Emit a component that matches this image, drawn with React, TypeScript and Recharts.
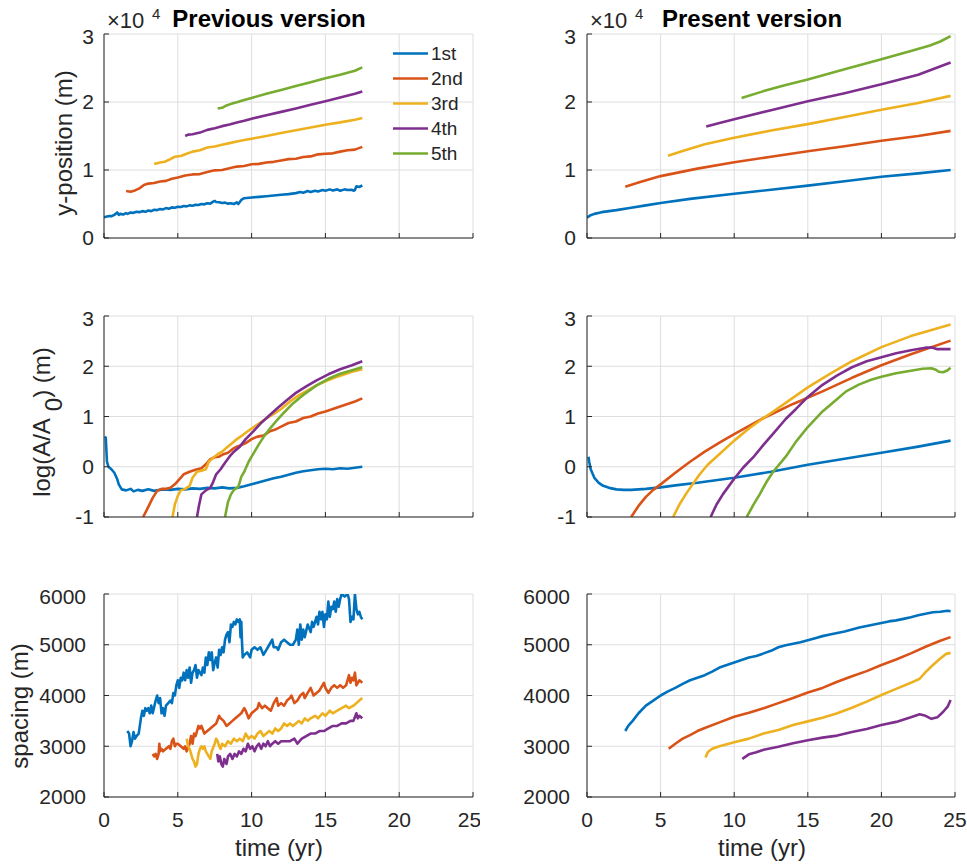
import React from 'react';
import { LineChart, Line, XAxis, YAxis, CartesianGrid, Legend } from 'recharts';

type Pt = [number, number];

const SERIES_NAMES = ['1st', '2nd', '3rd', '4th', '5th'];
const SERIES_COLORS = ['#0072BD', '#D95319', '#EDB120', '#7E2F8E', '#77AC30'];
const X_TICKS = [0, 5, 10, 15, 20, 25];
const POS_TICKS = [0, 10000, 20000, 30000];
const LOG_TICKS = [-1, 0, 1, 2, 3];
const SPACING_TICKS = [2000, 3000, 4000, 5000, 6000];
const TITLES = ['Previous version', 'Present version'];
const X_LABEL = 'time (yr)';
const Y_LABELS = ['y-position (m)', 'log(A/A', '0', ') (m)', 'spacing (m)'];

// ---------- Previous version: y-position ----------
const prevPos1: Pt[] = [[0,3050],[0.2,3150],[0.4,3250],[0.5,3200],[0.7,3400],[0.9,3750],[1.0,3400],[1.1,3550],[1.3,3450],[1.5,3650],[1.6,3550],[1.8,3750],[2.0,3700],[2.2,3850],[2.4,3800],[2.6,3950],[2.8,3850],[3.0,4050],[3.2,3950],[3.4,4150],[3.6,4100],[3.8,4250],[4.0,4200],[4.2,4400],[4.4,4300],[4.6,4500],[4.8,4450],[5.0,4600],[5.2,4550],[5.4,4700],[5.6,4650],[5.8,4800],[6.0,4750],[6.2,4900],[6.4,4850],[6.6,5000],[6.8,4950],[7.0,5100],[7.2,5050],[7.4,5350],[7.5,5450],[7.6,5300],[7.8,5250],[8.0,5150],[8.2,5200],[8.4,5050],[8.6,5100],[8.8,5000],[9.0,5250],[9.1,5000],[9.2,5300],[9.3,5600],[9.5,5850],[10,5950],[10.5,6050],[11,6150],[11.5,6250],[12,6350],[12.5,6450],[13,6600],[13.3,6750],[13.5,6650],[13.8,6900],[14,6750],[14.3,6950],[14.5,6850],[14.8,7050],[15,6950],[15.3,7150],[15.5,7000],[15.8,7150],[16,6950],[16.3,7150],[16.5,7050],[16.8,7100],[16.9,6950],[17.0,7050],[17.1,7600],[17.3,7500],[17.5,7750]];
const prevPos2: Pt[] = [[1.5,6900],[1.8,6800],[2.1,7000],[2.4,7300],[2.7,7800],[3.0,8000],[3.4,8100],[3.8,8300],[4.2,8400],[4.6,8700],[5.0,8900],[5.5,9200],[6.0,9350],[6.5,9400],[7.0,9700],[7.5,9950],[8.0,10000],[8.5,10250],[9.0,10500],[9.5,10600],[10,10850],[10.5,10900],[11,11100],[11.5,11200],[12,11400],[12.5,11600],[13,11650],[13.5,11900],[14,12000],[14.5,12300],[15,12400],[15.5,12450],[16,12700],[16.5,12900],[17,13000],[17.5,13400]];
const prevPos3: Pt[] = [[3.4,10900],[3.6,11000],[3.8,11100],[4.1,11200],[4.4,11500],[4.8,11950],[5.2,12050],[5.6,12400],[6.0,12700],[6.5,12900],[7.0,13300],[7.5,13450],[8.0,13700],[8.5,13950],[9.0,14200],[9.5,14400],[10,14600],[11,15000],[12,15450],[13,15850],[14,16250],[15,16650],[16,17000],[17,17400],[17.5,17650]];
const prevPos4: Pt[] = [[5.5,15000],[5.7,15200],[6.0,15250],[6.5,15500],[7.0,15900],[7.5,16150],[8.0,16450],[8.5,16700],[9.0,17000],[9.5,17250],[10,17550],[11,18050],[12,18550],[13,19050],[14,19600],[15,20100],[16,20650],[17,21200],[17.5,21550]];
const prevPos5: Pt[] = [[7.7,19050],[8.0,19150],[8.3,19500],[8.7,19800],[9.0,19950],[9.5,20300],[10,20600],[11,21200],[12,21750],[13,22350],[14,22900],[15,23500],[16,24000],[17,24600],[17.5,25100]];

// ---------- Present version: y-position ----------
const presPos1: Pt[] = [[0,3000],[0.2,3300],[0.5,3550],[1,3800],[2,4100],[3,4450],[4,4800],[5,5150],[7,5750],[10,6500],[12.5,7100],[15,7700],[17.5,8350],[20,9000],[22.5,9500],[24.7,10000]];
const presPos2: Pt[] = [[2.6,7550],[3.5,8150],[5,9100],[7.5,10200],[10,11150],[12.5,11950],[15,12750],[17.5,13500],[20,14300],[22.5,15000],[24.7,15750]];
const presPos3: Pt[] = [[5.5,12100],[6.5,12800],[8,13800],[10,14750],[12.5,15800],[15,16750],[17.5,17800],[20,18850],[22.5,19850],[24.7,20900]];
const presPos4: Pt[] = [[8.1,16400],[9,16900],[10,17450],[12.5,18800],[15,20100],[17.5,21300],[20,22600],[22.5,24000],[24.7,25800]];
const presPos5: Pt[] = [[10.5,20600],[12,21600],[13.5,22500],[15,23300],[17.5,24800],[20,26300],[22,27500],[23.3,28300],[24,28900],[24.7,29700]];

// ---------- Previous version: log(A/A0) ----------
const prevLog1: Pt[] = [[0.05,0.6],[0.12,0.58],[0.2,0.1],[0.3,0.0],[0.5,-0.05],[0.7,-0.12],[0.9,-0.25],[1.0,-0.35],[1.2,-0.45],[1.5,-0.47],[1.8,-0.44],[2.0,-0.49],[2.3,-0.46],[2.6,-0.48],[3.0,-0.45],[3.4,-0.48],[4,-0.45],[4.5,-0.46],[5,-0.44],[5.5,-0.45],[6,-0.43],[6.5,-0.44],[7,-0.42],[7.5,-0.43],[8,-0.41],[8.5,-0.43],[9,-0.42],[9.5,-0.39],[10,-0.35],[10.5,-0.31],[11,-0.27],[11.5,-0.23],[12,-0.2],[12.5,-0.16],[13,-0.12],[13.5,-0.09],[14,-0.07],[14.5,-0.05],[15,-0.04],[15.5,-0.05],[16,-0.03],[16.5,-0.04],[17,-0.02],[17.5,0.0]];
const prevLog2: Pt[] = [[2.65,-1.0],[3.0,-0.8],[3.3,-0.62],[3.6,-0.48],[3.9,-0.44],[4.2,-0.44],[4.5,-0.42],[4.8,-0.35],[5.1,-0.25],[5.4,-0.15],[5.8,-0.1],[6.2,-0.06],[6.6,-0.03],[6.9,0.05],[7.2,0.15],[7.5,0.19],[7.8,0.2],[8.1,0.25],[8.4,0.28],[8.7,0.35],[9.0,0.4],[9.3,0.43],[9.6,0.47],[10,0.55],[10.4,0.6],[10.8,0.62],[11.2,0.7],[11.6,0.74],[12,0.8],[12.5,0.87],[13,0.9],[13.5,0.97],[14,1.0],[14.5,1.06],[15,1.1],[15.5,1.15],[16,1.2],[16.5,1.25],[17,1.3],[17.5,1.36]];
const prevLog3: Pt[] = [[4.64,-1.0],[4.8,-0.75],[5.0,-0.58],[5.2,-0.47],[5.5,-0.44],[5.8,-0.38],[6.0,-0.22],[6.3,-0.1],[6.6,-0.08],[6.9,-0.05],[7.1,0.1],[7.4,0.18],[7.7,0.25],[8.0,0.3],[8.3,0.38],[8.6,0.45],[9.0,0.55],[9.4,0.63],[9.8,0.72],[10.2,0.8],[10.6,0.88],[11,0.96],[11.5,1.05],[12,1.15],[12.6,1.3],[13.2,1.42],[13.8,1.52],[14.4,1.62],[15,1.7],[15.6,1.77],[16.2,1.83],[16.8,1.89],[17.5,1.94]];
const prevLog4: Pt[] = [[6.3,-1.0],[6.45,-0.75],[6.6,-0.55],[6.9,-0.47],[7.2,-0.42],[7.4,-0.3],[7.6,-0.15],[7.9,-0.05],[8.2,0.08],[8.5,0.2],[8.8,0.3],[9.2,0.4],[9.6,0.55],[10.1,0.7],[10.6,0.86],[11.2,1.02],[11.8,1.18],[12.4,1.33],[13,1.47],[13.7,1.6],[14.4,1.72],[15.2,1.84],[16,1.94],[16.8,2.02],[17.5,2.1]];
const prevLog5: Pt[] = [[8.2,-1.0],[8.4,-0.7],[8.6,-0.55],[8.8,-0.46],[9.1,-0.4],[9.3,-0.2],[9.5,-0.1],[9.8,0.1],[10.1,0.25],[10.5,0.45],[10.9,0.63],[11.3,0.78],[11.7,0.92],[12.2,1.08],[12.8,1.26],[13.5,1.43],[14.4,1.62],[15.2,1.75],[16,1.85],[16.8,1.92],[17.5,1.98]];

// ---------- Present version: log(A/A0) ----------
const presLog1: Pt[] = [[0.1,0.2],[0.15,0.1],[0.25,-0.05],[0.5,-0.22],[0.8,-0.32],[1.1,-0.38],[1.5,-0.42],[2,-0.45],[2.5,-0.46],[3,-0.46],[4,-0.44],[5,-0.41],[6,-0.37],[7.5,-0.32],[10,-0.22],[12.5,-0.1],[15,0.04],[17.5,0.16],[20,0.28],[22.5,0.4],[24.7,0.52]];
const presLog2: Pt[] = [[3.0,-1.0],[3.5,-0.78],[4,-0.6],[4.5,-0.46],[5,-0.35],[6,-0.12],[7,0.1],[8,0.3],[9,0.48],[10,0.65],[12,0.97],[14,1.25],[16,1.5],[18,1.77],[20,2.02],[22,2.24],[24.7,2.51]];
const presLog3: Pt[] = [[5.85,-1.0],[6.3,-0.74],[6.75,-0.53],[7.2,-0.34],[7.66,-0.15],[8.2,0.04],[8.8,0.2],[10,0.52],[11,0.76],[12,0.97],[12.5,1.07],[13.5,1.27],[15,1.58],[16.5,1.85],[18,2.1],[20,2.38],[22,2.6],[24.7,2.83]];
const presLog4: Pt[] = [[8.4,-1.0],[8.8,-0.75],[9.25,-0.54],[10,-0.24],[10.6,-0.02],[11.3,0.19],[12,0.44],[12.65,0.66],[13.5,0.95],[14.2,1.15],[15,1.39],[16,1.63],[17,1.82],[18,1.98],[19,2.1],[20,2.18],[21,2.26],[22,2.32],[23,2.37],[23.5,2.37],[23.8,2.34],[24.2,2.34],[24.7,2.34]];
const presLog5: Pt[] = [[10.85,-1.0],[11.3,-0.76],[11.75,-0.54],[12.2,-0.3],[12.65,-0.1],[13.5,0.2],[14.2,0.5],[15,0.79],[16,1.1],[17,1.35],[17.6,1.5],[18.5,1.64],[19.3,1.73],[20,1.79],[21,1.86],[22,1.91],[22.8,1.95],[23.4,1.96],[23.7,1.93],[23.9,1.89],[24.2,1.88],[24.5,1.92],[24.7,1.97]];

// ---------- Previous version: spacing ----------
const prevSp1: Pt[] = [[1.58,3300],[1.7,3250],[1.8,3000],[1.9,3100],[2.0,3280],[2.1,3150],[2.2,3200],[2.35,3250],[2.5,3550],[2.6,3700],[2.7,3600],[2.8,3750],[2.9,3700],[3.0,3750],[3.1,3650],[3.2,3800],[3.3,3650],[3.5,3900],[3.6,4000],[3.7,3850],[3.8,3950],[3.9,3650],[4.0,3750],[4.1,3600],[4.2,3800],[4.35,3850],[4.5,3900],[4.6,3850],[4.7,4050],[4.8,4000],[4.9,4200],[5.0,4300],[5.1,4150],[5.2,4350],[5.3,4300],[5.4,4450],[5.5,4300],[5.6,4500],[5.7,4350],[5.8,4550],[5.9,4250],[6.0,4450],[6.1,4500],[6.2,4600],[6.3,4350],[6.4,4500],[6.5,4450],[6.6,4400],[6.7,4550],[6.8,4450],[6.9,4750],[7.0,4600],[7.1,4850],[7.2,4700],[7.3,4850],[7.4,4500],[7.5,4650],[7.6,4750],[7.7,4550],[7.8,4900],[7.9,4800],[8.0,4950],[8.1,4850],[8.2,5100],[8.3,5200],[8.4,5250],[8.5,5050],[8.6,5400],[8.7,5350],[8.8,5450],[8.9,5400],[9.0,5500],[9.1,5450],[9.2,5500],[9.25,5150],[9.3,5450],[9.35,5050],[9.4,4750],[9.5,4800],[9.7,4850],[9.9,4750],[10.0,4900],[10.2,4950],[10.4,4900],[10.6,4950],[10.8,4800],[11.0,4900],[11.2,5000],[11.4,5100],[11.5,4950],[11.7,4950],[11.8,4900],[12.0,5050],[12.2,5100],[12.4,5050],[12.6,5000],[12.8,5000],[13.0,5100],[13.1,5300],[13.2,5000],[13.3,5400],[13.4,5100],[13.5,5300],[13.6,5150],[13.8,5400],[14.0,5250],[14.1,5450],[14.2,5350],[14.4,5550],[14.5,5400],[14.6,5650],[14.7,5500],[14.8,5650],[14.9,5350],[15.0,5600],[15.1,5500],[15.2,5850],[15.3,5550],[15.4,5750],[15.5,5700],[15.6,5850],[15.7,5650],[15.8,5900],[15.9,5750],[16.0,5900],[16.1,6000],[16.3,5950],[16.5,6000],[16.6,5900],[16.7,5450],[16.8,5550],[16.9,5500],[17.0,6000],[17.1,5700],[17.2,5600],[17.3,5650],[17.4,5550],[17.5,5500]];
const prevSp2: Pt[] = [[3.3,2850],[3.4,2800],[3.5,2850],[3.6,2750],[3.7,2850],[3.75,3050],[3.8,2900],[3.9,2950],[4.0,2900],[4.2,2950],[4.4,3000],[4.5,2950],[4.6,3100],[4.7,3150],[4.8,3000],[4.9,3050],[5.0,3050],[5.2,3000],[5.4,2950],[5.5,3000],[5.6,2900],[5.8,3050],[5.9,3200],[6.0,3050],[6.1,3250],[6.2,3200],[6.3,3300],[6.4,3400],[6.5,3350],[6.6,3400],[6.8,3250],[7.0,3300],[7.2,3350],[7.4,3400],[7.6,3450],[7.8,3600],[7.9,3550],[8.1,3500],[8.3,3400],[8.5,3450],[8.7,3500],[8.9,3550],[9.1,3600],[9.3,3650],[9.5,3750],[9.6,3700],[9.8,3550],[10.0,3650],[10.2,3700],[10.4,3750],[10.5,3850],[10.7,3750],[10.9,3800],[11.1,3750],[11.3,3700],[11.5,3850],[11.7,3950],[11.8,3800],[12.0,3850],[12.2,3800],[12.4,3900],[12.6,3950],[12.7,4000],[12.9,3850],[13.1,3900],[13.3,4000],[13.5,4050],[13.6,3950],[13.8,4050],[14.0,4150],[14.2,4000],[14.4,4050],[14.6,4100],[14.8,4200],[14.9,4250],[15.0,4150],[15.2,4050],[15.4,4150],[15.6,4200],[15.8,4150],[16.0,4200],[16.2,4150],[16.4,4200],[16.6,4400],[16.7,4250],[16.8,4350],[16.9,4300],[17.0,4450],[17.1,4200],[17.2,4250],[17.3,4300],[17.5,4250]];
const prevSp3: Pt[] = [[5.6,3150],[5.7,3000],[5.8,2950],[5.9,2850],[6.0,2750],[6.1,2700],[6.2,2600],[6.3,2650],[6.4,2850],[6.5,2950],[6.6,3000],[6.7,2950],[6.8,3000],[6.9,2900],[7.0,2850],[7.1,2800],[7.2,2750],[7.3,2900],[7.5,3050],[7.6,3150],[7.7,3100],[7.8,3000],[7.9,2950],[8.0,3050],[8.2,3000],[8.4,3100],[8.6,3050],[8.8,3150],[9.0,3100],[9.2,3150],[9.4,3100],[9.6,3250],[9.8,3150],[10.0,3200],[10.2,3150],[10.4,3250],[10.6,3300],[10.8,3200],[11.0,3250],[11.2,3300],[11.4,3250],[11.6,3350],[11.8,3300],[12.0,3350],[12.2,3450],[12.4,3400],[12.6,3450],[12.8,3400],[13.0,3450],[13.2,3500],[13.4,3450],[13.6,3550],[13.8,3500],[14.0,3550],[14.3,3600],[14.5,3550],[14.8,3650],[15.0,3600],[15.3,3700],[15.5,3650],[15.8,3700],[16.1,3750],[16.4,3800],[16.6,3750],[16.9,3800],[17.1,3850],[17.3,3900],[17.5,3950]];
const prevSp4: Pt[] = [[7.67,2850],[7.75,2700],[7.85,2800],[7.95,2650],[8.05,2600],[8.15,2750],[8.3,2650],[8.4,2800],[8.55,2850],[8.7,2750],[8.85,2850],[9.0,2800],[9.15,2900],[9.3,2850],[9.45,2950],[9.6,2900],[9.75,3050],[9.9,2950],[10.05,3000],[10.2,2900],[10.35,3000],[10.5,3050],[10.65,2950],[10.8,3050],[10.95,3000],[11.1,3100],[11.25,3000],[11.4,3050],[11.6,3100],[11.8,3050],[12.0,3100],[12.3,3100],[12.6,3100],[12.9,3150],[13.1,3050],[13.4,3150],[13.7,3200],[14.0,3250],[14.3,3250],[14.6,3300],[14.9,3300],[15.2,3350],[15.5,3400],[15.8,3400],[16.1,3450],[16.4,3450],[16.7,3500],[16.9,3500],[17.1,3650],[17.2,3550],[17.3,3600],[17.5,3550]];

// ---------- Present version: spacing ----------
const presSp1: Pt[] = [[2.6,3300],[2.8,3400],[3.1,3500],[3.5,3650],[4,3800],[4.5,3900],[5,4000],[5.5,4080],[6,4150],[6.5,4230],[7,4300],[7.5,4350],[8,4400],[8.5,4470],[9,4550],[9.5,4600],[10,4650],[10.5,4700],[11,4750],[11.5,4780],[12,4830],[12.5,4880],[13,4950],[13.5,4990],[14,5020],[14.5,5050],[15,5090],[15.5,5130],[16,5170],[16.5,5200],[17,5230],[17.5,5260],[18,5300],[18.5,5340],[19,5370],[19.5,5400],[20,5430],[20.5,5460],[21,5480],[21.5,5510],[22,5540],[22.5,5580],[23,5610],[23.5,5640],[24,5650],[24.5,5670],[24.7,5660]];
const presSp2: Pt[] = [[5.55,2950],[6,3050],[6.5,3150],[7,3220],[7.5,3300],[8,3360],[9,3470],[10,3580],[11,3660],[12,3750],[13,3850],[14,3950],[15,4060],[16,4150],[17,4270],[18,4380],[19,4480],[20,4600],[21,4710],[22,4830],[23,4960],[24,5080],[24.7,5150]];
const presSp3: Pt[] = [[8.05,2780],[8.2,2880],[8.5,2950],[9,3000],[10,3080],[11,3150],[12,3250],[13,3320],[14,3420],[15,3490],[16,3560],[17,3650],[18,3760],[19,3880],[20,4010],[21,4130],[22,4250],[22.6,4330],[23,4460],[23.5,4600],[24,4730],[24.4,4820],[24.7,4840]];
const presSp4: Pt[] = [[10.55,2750],[11,2840],[11.5,2880],[12,2930],[13,2990],[14,3060],[15,3120],[16,3170],[17,3210],[18,3280],[19,3340],[20,3420],[21,3480],[22,3570],[22.6,3630],[23,3600],[23.4,3540],[23.8,3570],[24.2,3680],[24.5,3780],[24.7,3910]];

const AXIS = '#262626';
const GRID = '#dedede';
const FONT = '"Liberation Sans", Arial, Helvetica, sans-serif';

interface PanelProps {
  col: number;
  plotTop: number;
  plotH: number;
  series: Pt[][];
  yDomain: [number, number];
  yTicks: number[];
  yFmt: (v: number) => string;
  showXLabels: boolean;
  yTickMargin: number;
  legend?: boolean;
}

const renderLegend = () => (
  <div style={{ fontFamily: FONT, fontSize: 19, color: AXIS }}>
    {SERIES_NAMES.map((n, i) => (
      <div key={n} style={{ display: 'flex', alignItems: 'center', height: 25 }}>
        <svg width={41} height={25} style={{ display: 'block' }}>
          <line x1={3} x2={38} y1={12.5} y2={12.5} stroke={SERIES_COLORS[i]} strokeWidth={2.6} />
        </svg>
        <span style={{ lineHeight: '25px' }}>{n}</span>
      </div>
    ))}
  </div>
);

function Panel(p: PanelProps) {
  const chartLeft = p.col === 0 ? 0 : 483;
  const width = p.col === 0 ? 480 : 484;
  const mTop = 10;
  const xAxisH = 40;
  const mBottom = 4;
  const height = mTop + p.plotH + xAxisH + mBottom;
  const margin = { top: mTop, bottom: mBottom, left: 44, right: p.col === 0 ? 7 : 12 };
  return (
    <div style={{ position: 'absolute', left: chartLeft, top: p.plotTop - mTop, width, height }}>
      <LineChart width={width} height={height} margin={margin}>
        <CartesianGrid stroke={GRID} strokeWidth={1} />
        <XAxis
          type="number"
          dataKey="t"
          domain={[0, 25]}
          ticks={X_TICKS}
          allowDataOverflow
          height={xAxisH}
          tickSize={-5}
          tickMargin={20}
          stroke={AXIS}
          tick={{ fill: AXIS, fontSize: 21 }}
          tickFormatter={p.showXLabels ? (v: number) => String(v) : () => ''}
        />
        <XAxis
          xAxisId="top"
          orientation="top"
          type="number"
          dataKey="t"
          domain={[0, 25]}
          ticks={X_TICKS}
          allowDataOverflow
          height={0}
          tickSize={-5}
          stroke={AXIS}
          tickFormatter={() => ''}
        />
        <YAxis
          type="number"
          domain={p.yDomain}
          ticks={p.yTicks}
          allowDataOverflow
          width={60}
          tickSize={-5}
          tickMargin={p.yTickMargin}
          stroke={AXIS}
          tick={{ fill: AXIS, fontSize: 21 }}
          tickFormatter={p.yFmt}
        />
        <YAxis
          yAxisId="right"
          orientation="right"
          type="number"
          domain={p.yDomain}
          ticks={p.yTicks}
          allowDataOverflow
          width={0}
          tickSize={-5}
          stroke={AXIS}
          tickFormatter={() => ''}
        />
        {p.series.map((pts, i) => (
          <Line
            key={i}
            name={SERIES_NAMES[i]}
            data={pts.map(([t, v]) => ({ t, v }))}
            dataKey="v"
            type="linear"
            stroke={SERIES_COLORS[i]}
            strokeWidth={2.6}
            strokeLinejoin="round"
            dot={false}
            activeDot={false}
            isAnimationActive={false}
          />
        ))}
        {p.legend && (
          <Legend
            layout="vertical"
            align="center"
            verticalAlign="middle"
            wrapperStyle={{ left: 390, top: 17, width: 90 }}
            content={renderLegend}
          />
        )}
      </LineChart>
    </div>
  );
}

const fmtPos = (v: number) => String(v / 10000);
const fmtNum = (v: number) => String(v);

export default function App() {
  return (
    <div style={{ position: 'absolute', left: 0, top: 0, width: 967, height: 866, background: '#fff', fontFamily: FONT, overflow: 'hidden' }}>
      <Panel col={0} plotTop={34} plotH={204} series={[prevPos1, prevPos2, prevPos3, prevPos4, prevPos5]} yDomain={[0, 30000]} yTicks={POS_TICKS} yFmt={fmtPos} showXLabels={false} yTickMargin={15} legend />
      <Panel col={1} plotTop={34} plotH={204} series={[presPos1, presPos2, presPos3, presPos4, presPos5]} yDomain={[0, 30000]} yTicks={POS_TICKS} yFmt={fmtPos} showXLabels={false} yTickMargin={16} />
      <Panel col={0} plotTop={316} plotH={201} series={[prevLog1, prevLog2, prevLog3, prevLog4, prevLog5]} yDomain={[-1, 3]} yTicks={LOG_TICKS} yFmt={fmtNum} showXLabels={false} yTickMargin={15} />
      <Panel col={1} plotTop={316} plotH={201} series={[presLog1, presLog2, presLog3, presLog4, presLog5]} yDomain={[-1, 3]} yTicks={LOG_TICKS} yFmt={fmtNum} showXLabels={false} yTickMargin={16} />
      <Panel col={0} plotTop={594} plotH={203} series={[prevSp1, prevSp2, prevSp3, prevSp4]} yDomain={[2000, 6000]} yTicks={SPACING_TICKS} yFmt={fmtNum} showXLabels yTickMargin={23} />
      <Panel col={1} plotTop={594} plotH={203} series={[presSp1, presSp2, presSp3, presSp4]} yDomain={[2000, 6000]} yTicks={SPACING_TICKS} yFmt={fmtNum} showXLabels yTickMargin={22} />
      <svg width={967} height={866} style={{ position: 'absolute', left: 0, top: 0, pointerEvents: 'none' }} fontFamily={FONT}>
        <text x={107} y={28} fontSize={22} fill={AXIS}>×10</text>
        <text x={152} y={19} fontSize={15} fill={AXIS}>4</text>
        <text x={269} y={27} fontSize={24} fontWeight="bold" fill="#000" textAnchor="middle">{TITLES[0]}</text>
        <text x={590} y={28} fontSize={22} fill={AXIS}>×10</text>
        <text x={635} y={19} fontSize={15} fill={AXIS}>4</text>
        <text x={752} y={27} fontSize={24} fontWeight="bold" fill="#000" textAnchor="middle">{TITLES[1]}</text>
        <text x={72} y={143} fontSize={24} fill={AXIS} textAnchor="middle" transform="rotate(-90 72 143)">{Y_LABELS[0]}</text>
        <text x={50} y={422} fontSize={24} fill={AXIS} textAnchor="middle" transform="rotate(-90 50 422)">
          {Y_LABELS[1]}
          <tspan dx={7} dy={12}>{Y_LABELS[2]}</tspan>
          <tspan dy={-12}>{Y_LABELS[3]}</tspan>
        </text>
        <text x={28} y={706} fontSize={24} fill={AXIS} textAnchor="middle" transform="rotate(-90 28 706)">{Y_LABELS[4]}</text>
        <text x={279} y={856} fontSize={24} fill={AXIS} textAnchor="middle">{X_LABEL}</text>
        <text x={762} y={856} fontSize={24} fill={AXIS} textAnchor="middle">{X_LABEL}</text>
      </svg>
    </div>
  );
}
